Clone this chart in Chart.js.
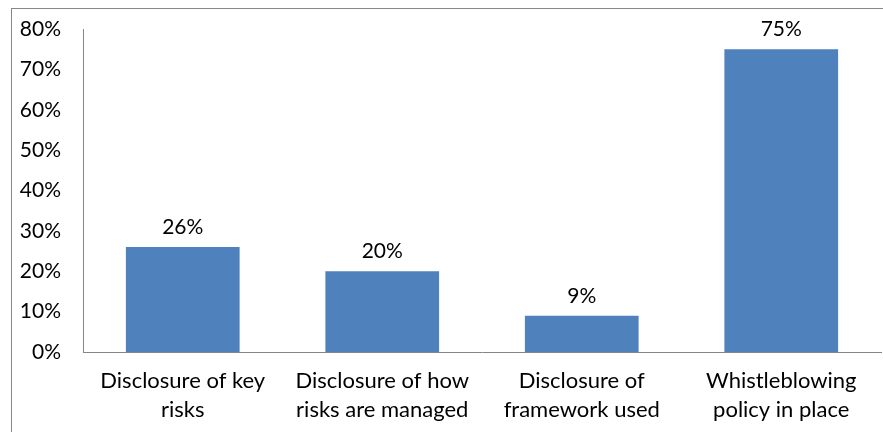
<!DOCTYPE html>
<html>
<head>
<meta charset="utf-8">
<script src="https://cdn.jsdelivr.net/npm/chart.js@4/dist/chart.umd.min.js"></script>
<style>
  html, body { margin: 0; padding: 0; background: #fff; }
  #wrap { position: relative; width: 883px; height: 432px; overflow: hidden; }
  #frame { position: absolute; left: 11px; top: 8px; width: 900px; height: 500px;
           border-top: 1px solid #878787; border-left: 1px solid #878787; box-sizing: border-box; }
  canvas { position: absolute; left: 0; top: 0; }
</style>
</head>
<body>
<div id="wrap">
  <div id="frame"></div>
  <canvas id="c" width="883" height="432"></canvas>
</div>
<script>
const categories = [
  ["Disclosure of key", "risks"],
  ["Disclosure of how", "risks are managed"],
  ["Disclosure of", "framework used"],
  ["Whistleblowing", "policy in place"]
];
const values = [26, 20, 9, 75];
const yTicks = [0, 10, 20, 30, 40, 50, 60, 70, 80];

const FONT = "Lato, 'Open Sans', sans-serif";
const TEXT = "#000000";
const AXIS = "#868686";
const BAR = "#4F81BD";

const dataLabels = {
  id: 'dataLabels',
  afterDatasetsDraw(chart) {
    const ctx = chart.ctx;
    const meta = chart.getDatasetMeta(0);
    ctx.save();
    ctx.font = "21px " + FONT;
    ctx.fillStyle = TEXT;
    ctx.textAlign = 'center';
    ctx.textBaseline = 'alphabetic';
    meta.data.forEach((el, i) => {
      ctx.fillText(values[i] + '%', el.x, el.y - 13);
    });
    ctx.restore();
  }
};

new Chart(document.getElementById('c'), {
  type: 'bar',
  data: {
    labels: categories,
    datasets: [{
      data: values,
      backgroundColor: BAR,
      borderWidth: 0,
      categoryPercentage: 0.57,
      barPercentage: 1.0
    }]
  },
  options: {
    responsive: false,
    animation: false,
    events: [],
    layout: { padding: { left: 0, top: 29, right: 2, bottom: 0 } },
    plugins: { legend: { display: false }, tooltip: { enabled: false } },
    scales: {
      x: {
        grid: { display: false, drawTicks: false },
        border: { display: true, color: AXIS, width: 1 },
        ticks: { color: TEXT, font: { family: FONT, size: 22, lineHeight: 1.32 }, padding: 14, maxRotation: 0, autoSkip: false },
        afterFit(scale) { scale.height = 80; scale.paddingLeft = 0; scale.paddingRight = 0; }
      },
      y: {
        min: 0, max: 80,
        afterBuildTicks(scale) { scale.ticks = yTicks.map(v => ({ value: v })); },
        grid: { display: false, drawTicks: false },
        border: { display: true, color: AXIS, width: 1 },
        ticks: { color: TEXT, font: { family: FONT, size: 21 }, padding: 22, callback: v => v + '%' },
        afterFit(scale) { scale.width = 83; scale.paddingTop = 0; scale.paddingBottom = 0; }
      }
    }
  },
  plugins: [dataLabels]
});
</script>
</body>
</html>
